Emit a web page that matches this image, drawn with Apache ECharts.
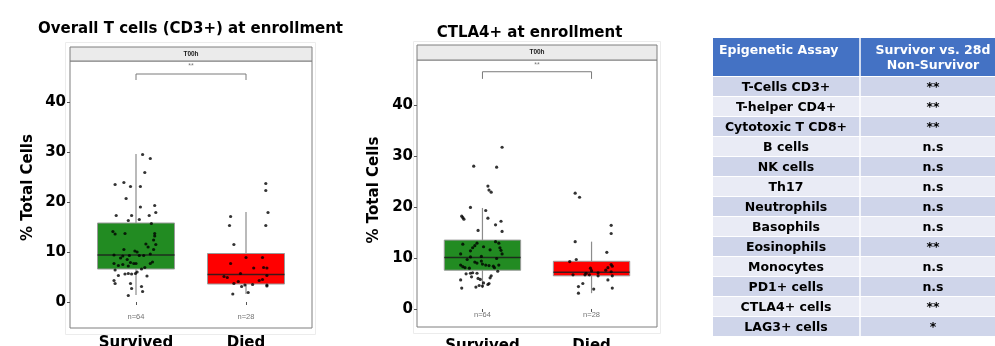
<!DOCTYPE html>
<html><head><meta charset="utf-8">
<script src="https://cdn.jsdelivr.net/npm/echarts@6/dist/echarts.min.js"></script>
<style>html,body{margin:0;padding:0;background:#fff}#c{width:995px;height:346px}</style>
</head><body><div id="c"></div><script>
// ---------- data ----------
const groups = ['Survived', 'Died'];
const yTicks = [0, 10, 20, 30, 40];
const counts = ['n=64', 'n=28'];
const facetLabel = 'T00h';
const sigLabel = '**';
const boxColors = ['#228B22', '#FF0000'];

// Chart 1: Overall T cells (CD3+) at enrollment
const cd3Title = 'Overall T cells (CD3+) at enrollment';
const cd3SurvivedValues = [29.5,28.7,25.9,23.9,23.5,23.1,23.1,20.7,19.0,19.3,17.9,17.3,17.3,17.3,16.3,16.5,15.7,14.1,13.6,13.7,13.7,13.2,12.4,11.6,11.5,10.5,10.5,10.2,10.0,9.6,9.4,9.2,9.3,9.3,9.3,8.5,8.0,7.7,7.7,7.3,7.5,7.9,7.7,7.7,7.2,6.9,6.4,6.0,5.6,5.7,5.6,5.3,5.2,5.7,4.3,3.7,3.7,3.1,2.7,2.1,1.3,11.0,8.8,6.6];
const cd3SurvivedJitter = [0.06,0.13,0.08,-0.11,-0.19,-0.05,0.04,-0.09,0.04,0.17,0.18,-0.18,-0.04,0.12,-0.07,0.03,0.14,-0.21,-0.19,-0.10,0.17,0.17,0.16,0.09,0.18,0.16,-0.11,-0.01,0.01,0.13,-0.20,-0.12,-0.06,0.03,0.07,-0.08,0.15,0.13,-0.20,-0.16,-0.12,-0.05,-0.02,0.00,-0.07,0.08,-0.19,0.01,-0.10,-0.07,-0.04,-0.16,0.10,-0.005,-0.20,-0.19,-0.05,0.05,-0.04,0.06,-0.07,0.11,-0.14,0.05];
const cd3DiedValues = [23.7,22.3,17.1,17.9,15.3,15.3,11.5,8.9,8.9,7.7,6.8,6.9,6.8,5.7,5.1,4.9,5.3,4.5,4.3,4.1,3.7,3.4,3.5,3.1,3.2,3.4,1.6,1.9];
const cd3DiedJitter = [0.18,0.18,-0.14,0.20,-0.15,0.18,-0.11,0.00,0.15,-0.14,0.07,0.16,0.19,-0.05,-0.20,-0.17,0.19,0.15,0.12,-0.07,-0.11,-0.01,0.06,-0.04,0.19,0.19,-0.12,0.02];
// [lower whisker, Q1, median, Q3, upper whisker]
const cd3BoxStats = [[1.4, 6.6, 9.4, 15.8, 29.6], [1.6, 3.6, 5.5, 9.7, 18.0]];
const cd3Bracket = [44.4, 45.6, 47.2];
const cd3CountY = -3.0;

// Chart 2: CTLA4+ at enrollment
const ctlaTitle = 'CTLA4+ at enrollment';
const ctlaSurvivedValues = [31.7,28.0,27.8,24.1,23.3,22.9,19.9,18.2,17.9,17.6,19.3,17.8,17.2,16.5,15.4,15.2,12.7,12.9,12.9,12.0,12.4,12.2,11.6,12.0,11.5,11.4,10.8,10.8,10.2,10.3,9.9,9.2,9.0,9.4,8.8,8.6,8.6,8.3,8.1,8.0,8.5,8.4,8.1,8.6,6.9,7.0,7.1,7.0,6.5,6.1,5.7,6.0,5.8,5.1,4.8,4.3,4.6,4.5,4.1,5.0,13.2,9.7,7.4,6.3];
const ctlaSurvivedJitter = [0.18,-0.08,0.13,0.05,0.06,0.08,-0.11,-0.19,-0.18,-0.17,0.03,0.05,0.17,0.12,-0.04,0.18,-0.18,-0.05,0.15,-0.09,-0.07,0.01,0.07,0.16,0.17,-0.11,-0.20,0.18,-0.11,-0.01,0.13,-0.07,-0.05,-0.01,0.00,0.03,-0.20,-0.18,-0.16,-0.12,0.06,0.10,0.11,0.15,-0.15,-0.11,-0.09,-0.05,0.08,0.07,-0.20,-0.04,-0.02,0.01,0.05,-0.06,-0.03,0.00,-0.19,0.06,0.12,-0.14,0.14,-0.10];
const ctlaDiedValues = [22.7,21.9,16.4,14.8,13.2,11.1,9.7,9.3,8.7,8.4,8.1,8.0,7.6,7.3,7.0,7.1,6.7,6.7,6.7,6.5,6.5,5.7,5.0,4.4,4.1,3.9,3.1,7.5];
const ctlaDiedJitter = [-0.15,-0.11,0.18,0.18,-0.15,0.14,-0.14,-0.20,0.18,0.19,0.15,-0.01,0.13,0.18,-0.05,0.06,-0.17,-0.06,-0.02,0.06,0.19,0.15,-0.08,-0.12,0.19,0.02,-0.12,0.00];
const ctlaBoxStats = [[4.1, 7.6, 10.1, 13.5, 19.8], [3.1, 6.5, 7.2, 9.35, 13.2]];
const ctlaBracket = [45.1, 46.5, 47.8];
const ctlaCountY = -1.2;

// Table
const tableHeader = ['Epigenetic Assay', 'Survivor vs. 28d', 'Non-Survivor'];
const assays = ['T-Cells CD3+','T-helper CD4+','Cytotoxic T CD8+','B cells','NK cells','Th17','Neutrophils','Basophils','Eosinophils','Monocytes','PD1+ cells','CTLA4+ cells','LAG3+ cells'];
const significance = ['**','**','**','n.s','n.s','n.s','n.s','n.s','**','n.s','n.s','**','*'];

// ---------- layout ----------
const FONT = "'DejaVu Sans', Verdana, sans-serif";
const panels = [
  {grid:{left:70, top:61, width:242, height:267}, yMin:-5.2, yMax:48.2, labelMarginX:8,
   title:cd3Title, titleX:190.5, titleY:29, yNameX:28, yNameY:187.5,
   strip:{x:70, y:47, w:242, h:14}, frame:{x:65.5, y:42.5, w:250, h:292},
   sv:cd3SurvivedValues, sj:cd3SurvivedJitter, dv:cd3DiedValues, dj:cd3DiedJitter,
   box:cd3BoxStats, bracket:cd3Bracket, countY:cd3CountY},
  {grid:{left:417, top:60, width:240, height:267}, yMin:-3.53, yMax:48.8, labelMarginX:12,
   title:ctlaTitle, titleX:529.5, titleY:33.5, yNameX:374, yNameY:190,
   strip:{x:417, y:45, w:240, h:15}, frame:{x:413.5, y:41.5, w:247, h:292},
   sv:ctlaSurvivedValues, sj:ctlaSurvivedJitter, dv:ctlaDiedValues, dj:ctlaDiedJitter,
   box:ctlaBoxStats, bracket:ctlaBracket, countY:ctlaCountY}
];

const grids = [], xAxes = [], yAxes = [], series = [], graphics = [];

panels.forEach((p, k) => {
  grids.push(Object.assign({show:true, borderColor:'#7f7f7f', borderWidth:1, backgroundColor:'#fff',
    containLabel:false, outerBoundsMode:'none'}, p.grid));
  xAxes.push({
    type:'value', gridIndex:k, min:0.4, max:2.6,
    axisLine:{show:false}, splitLine:{show:false},
    axisTick:{show:true, customValues:[1,2], length:3, lineStyle:{color:'#555'}},
    axisLabel:{customValues:[1,2], formatter:v => groups[Math.round(v)-1] || '',
      fontFamily:FONT, fontWeight:'bold', fontSize:15, color:'#000', margin:p.labelMarginX}
  });
  yAxes.push({
    type:'value', gridIndex:k, min:p.yMin, max:p.yMax,
    axisLine:{show:false}, splitLine:{show:false},
    axisTick:{show:true, customValues:yTicks, length:3, lineStyle:{color:'#555'}},
    axisLabel:{customValues:yTicks, fontFamily:FONT, fontWeight:'bold', fontSize:15, color:'#000', margin:4}
  });
  // boxes
  series.push({
    type:'custom', xAxisIndex:k, yAxisIndex:k, z:2,
    data:p.box.map((s, i) => [i+1].concat(s)),
    encode:{x:0, y:[1,2,3,4,5]},
    renderItem:(params, api) => {
      const x = api.value(0);
      const lo = api.coord([x, api.value(1)]), hi = api.coord([x, api.value(5)]);
      const tl = api.coord([x-0.35, api.value(4)]), br = api.coord([x+0.35, api.value(2)]);
      const m1 = api.coord([x-0.35, api.value(3)]), m2 = api.coord([x+0.35, api.value(3)]);
      return {type:'group', children:[
        {type:'line', shape:{x1:lo[0], y1:lo[1], x2:hi[0], y2:hi[1]}, style:{stroke:'#8c8c8c', lineWidth:1.2}},
        {type:'rect', shape:{x:tl[0], y:tl[1], width:br[0]-tl[0], height:br[1]-tl[1]},
          style:{fill:boxColors[params.dataIndex], stroke:'#9a9a9a', lineWidth:1}},
        {type:'line', shape:{x1:m1[0], y1:m1[1], x2:m2[0], y2:m2[1]}, style:{stroke:'#1c1c1c', lineWidth:1.6, opacity:0.85}}
      ]};
    }
  });
  // jittered points
  const pts = p.sv.map((v, i) => [1 + p.sj[i], v]).concat(p.dv.map((v, i) => [2 + p.dj[i], v]));
  series.push({type:'scatter', xAxisIndex:k, yAxisIndex:k, z:5, symbolSize:3.2,
    itemStyle:{color:'#000'}, data:pts, silent:true});
  // significance bracket
  series.push({type:'line', xAxisIndex:k, yAxisIndex:k, z:3, symbol:'none', silent:true,
    lineStyle:{color:'#7a7a7a', width:1},
    data:[[1, p.bracket[0]], [1, p.bracket[1]], [2, p.bracket[1]], [2, p.bracket[0]]]});
  series.push({type:'scatter', xAxisIndex:k, yAxisIndex:k, symbolSize:0, silent:true,
    data:[[1.5, p.bracket[2]]],
    label:{show:true, position:'inside', formatter:sigLabel, fontSize:7, color:'#555', fontFamily:'Liberation Sans'}});
  // counts
  series.push({type:'scatter', xAxisIndex:k, yAxisIndex:k, symbolSize:0, silent:true,
    data:[[1, p.countY], [2, p.countY]],
    label:{show:true, position:'inside', formatter:q => counts[q.dataIndex], fontSize:7.5, color:'#4d4d4d', fontFamily:'Liberation Sans'}});

  // decorations
  graphics.push({type:'rect', z:-10, shape:{x:p.frame.x, y:p.frame.y, width:p.frame.w, height:p.frame.h},
    style:{fill:'none', stroke:'#ececec', lineWidth:1}, silent:true});
  graphics.push({type:'rect', z:10, shape:{x:p.strip.x, y:p.strip.y, width:p.strip.w, height:p.strip.h},
    style:{fill:'#ebebeb', stroke:'#7f7f7f', lineWidth:1}, silent:true});
  graphics.push({type:'text', z:11, x:p.strip.x + p.strip.w/2, y:p.strip.y + p.strip.h/2,
    style:{text:facetLabel, fontSize:6.5, fontFamily:'Liberation Sans', fontWeight:'bold', fill:'#1a1a1a',
      align:'center', verticalAlign:'middle', textAlign:'center', textVerticalAlign:'middle'}, silent:true});
  graphics.push({type:'text', z:11, x:p.titleX, y:p.titleY,
    style:{text:p.title, fontSize:15, fontFamily:FONT, fontWeight:'bold', fill:'#000',
      align:'center', verticalAlign:'middle', textAlign:'center', textVerticalAlign:'middle'}, silent:true});
  graphics.push({type:'text', z:11, x:p.yNameX, y:p.yNameY, rotation:Math.PI/2,
    style:{text:'% Total Cells', fontSize:15, fontFamily:FONT, fontWeight:'bold', fill:'#000',
      align:'center', verticalAlign:'middle', textAlign:'center', textVerticalAlign:'middle'}, silent:true});
});

// ---------- table ----------
const T = {x:713, y:38, w:292, headH:38, rowY:77, rowH:20, col1:786, col2:933, split:860};
graphics.push({type:'rect', shape:{x:T.x, y:T.y, width:T.w, height:T.headH}, style:{fill:'#4472C4'}, silent:true});
assays.forEach((a, i) => {
  const y = T.rowY + i*T.rowH;
  graphics.push({type:'rect', shape:{x:T.x, y:y, width:T.w, height:T.rowH-1},
    style:{fill: i % 2 === 0 ? '#CFD5EA' : '#E9EBF5'}, silent:true});
  graphics.push({type:'text', x:T.col1, y:y + T.rowH/2 + 0.5,
    style:{text:a, fontSize:12.5, fontFamily:FONT, fontWeight:'bold', fill:'#000',
      align:'center', verticalAlign:'middle', textAlign:'center', textVerticalAlign:'middle'}, silent:true});
  graphics.push({type:'text', x:T.col2, y:y + T.rowH/2 + 0.5,
    style:{text:significance[i], fontSize:12.5, fontFamily:FONT, fontWeight:'bold', fill:'#000',
      align:'center', verticalAlign:'middle', textAlign:'center', textVerticalAlign:'middle'}, silent:true});
});
graphics.push({type:'line', shape:{x1:T.split, y1:T.y, x2:T.split, y2:T.rowY + assays.length*T.rowH}, style:{stroke:'#fff', lineWidth:1.5}, silent:true});
graphics.push({type:'text', x:719, y:50.5,
  style:{text:tableHeader[0], fontSize:12.5, fontFamily:FONT, fontWeight:'bold', fill:'#fff',
    align:'left', verticalAlign:'middle', textAlign:'left', textVerticalAlign:'middle'}, silent:true});
graphics.push({type:'text', x:T.col2, y:50.5,
  style:{text:tableHeader[1], fontSize:12.5, fontFamily:FONT, fontWeight:'bold', fill:'#fff',
    align:'center', verticalAlign:'middle', textAlign:'center', textVerticalAlign:'middle'}, silent:true});
graphics.push({type:'text', x:T.col2, y:66,
  style:{text:tableHeader[2], fontSize:12.5, fontFamily:FONT, fontWeight:'bold', fill:'#fff',
    align:'center', verticalAlign:'middle', textAlign:'center', textVerticalAlign:'middle'}, silent:true});

const chart = echarts.init(document.getElementById('c'), null, {renderer:'canvas'});
chart.setOption({
  animation:false, backgroundColor:'#fff',
  grid:grids, xAxis:xAxes, yAxis:yAxes, series:series, graphic:graphics
});
</script></body></html>
